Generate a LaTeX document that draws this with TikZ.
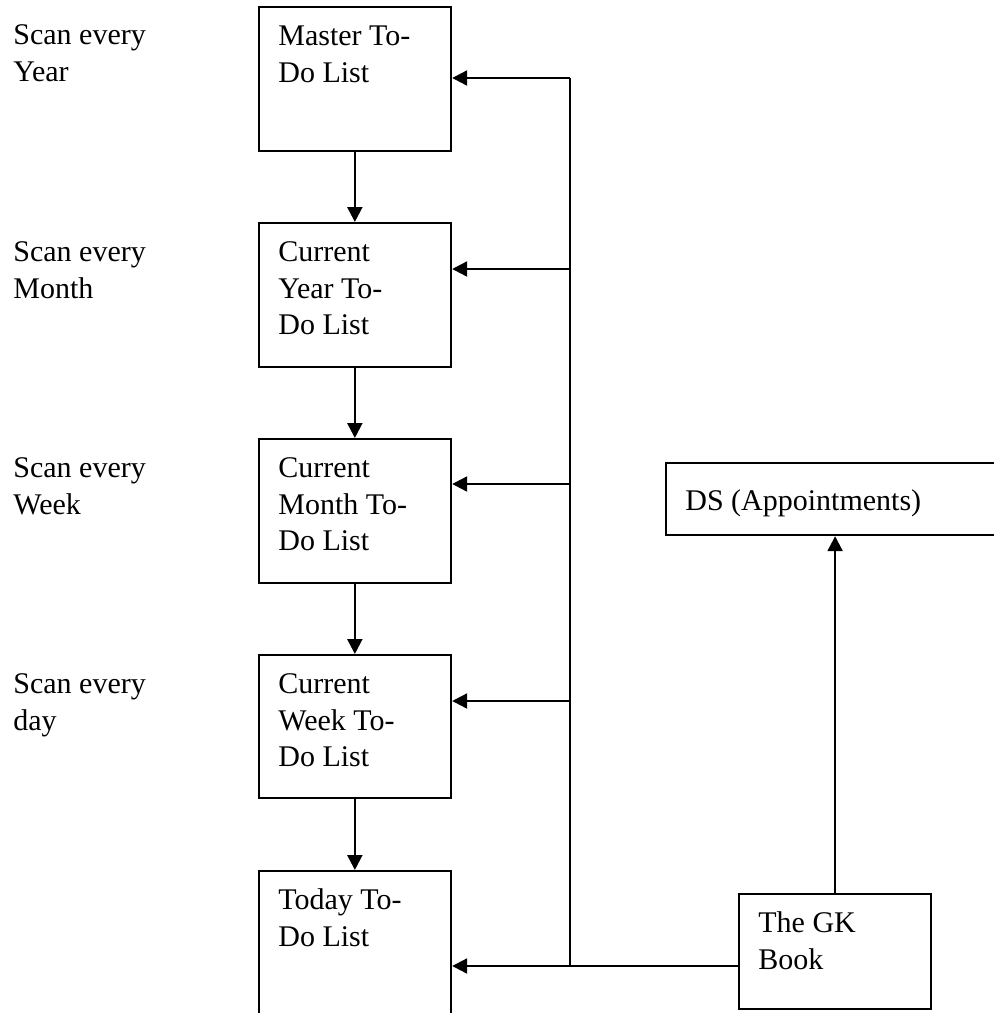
\documentclass[tikz,border=0pt]{standalone}
\usepackage{fontspec}
\setmainfont{Liberation Serif}
\usetikzlibrary{arrows.meta}
\begin{document}
\begin{tikzpicture}[x=0.5pt,y=-0.5pt,
  box/.style={draw, line width=1.1pt, rectangle, inner sep=0pt, anchor=north west},
  % text blocks are placed by the top of the first line's strut
  txt/.style={anchor=north west, align=left, inner sep=0pt,
    font=\fontsize{15pt}{18.3pt}\selectfont},
  arr/.style={line width=1.1pt, -{Triangle[length=7.5pt,width=7.5pt]}},
  wire/.style={line width=1pt}]
\useasboundingbox (0,0) rectangle (993,1013);

% left-hand scan intervals (first baseline minus 25.6)
\node[txt] (lyear)  at (13,18.4)  {\strut Scan every\\Year};
\node[txt] (lmonth) at (13,235.4) {\strut Scan every\\Month};
\node[txt] (lweek)  at (13,451.4) {\strut Scan every\\Week};
\node[txt] (lday)   at (13,667.4) {\strut Scan every\\day};

% to-do list cascade
\node[box, minimum width=96.25pt, minimum height=72pt] (master) at (257.5,6) {};
\node[box, minimum width=96.25pt, minimum height=72pt] (year)   at (257.5,222) {};
\node[box, minimum width=96.25pt, minimum height=72pt] (month)  at (257.5,438) {};
\node[box, minimum width=96.25pt, minimum height=71.5pt] (week) at (257.5,654) {};
\node[box, minimum width=96.25pt, minimum height=80pt] (today)  at (257.5,870) {};

\node[txt] (masterT) at (278,19.4)  {\strut Master To-\\Do List};
\node[txt] (yearT)   at (278,235.4) {\strut Current\\Year To-\\Do List};
\node[txt] (monthT)  at (278,451.4) {\strut Current\\Month To-\\Do List};
\node[txt] (weekT)   at (278,667.4) {\strut Current\\Week To-\\Do List};
\node[txt] (todayT)  at (278,883.4) {\strut Today To-\\Do List};

% sources
\node[box, minimum width=170pt, minimum height=36pt] (ds) at (665,462) {};
\node[txt] (dsT) at (685,484.4) {\strut DS (Appointments)};
\node[box, minimum width=96pt, minimum height=57.5pt] (gk) at (738,893) {};
\node[txt] (gkT) at (758,906.4) {\strut The GK\\Book};

% downward flow
\draw[arr] (master.south) -- (year.north);
\draw[arr] (year.south) -- (month.north);
\draw[arr] (month.south) -- (week.north);
\draw[arr] (week.south) -- (today.north);

% distribution trunk
\coordinate (j1) at (570,78);
\coordinate (j2) at (570,269);
\coordinate (j3) at (570,484);
\coordinate (j4) at (570,701);
\coordinate (j5) at (570,966);
\draw[wire] (j1) -- (j5);
\draw[arr] (j1) -- (j1 -| master.east);
\draw[arr] (j2) -- (j2 -| year.east);
\draw[arr] (j3) -- (j3 -| month.east);
\draw[arr] (j4) -- (j4 -| week.east);
\draw[arr] (j5 -| gk.west) -- (j5 -| today.east);
\draw[arr] (gk.north) -- (gk.north |- ds.south);
\end{tikzpicture}
\end{document}
